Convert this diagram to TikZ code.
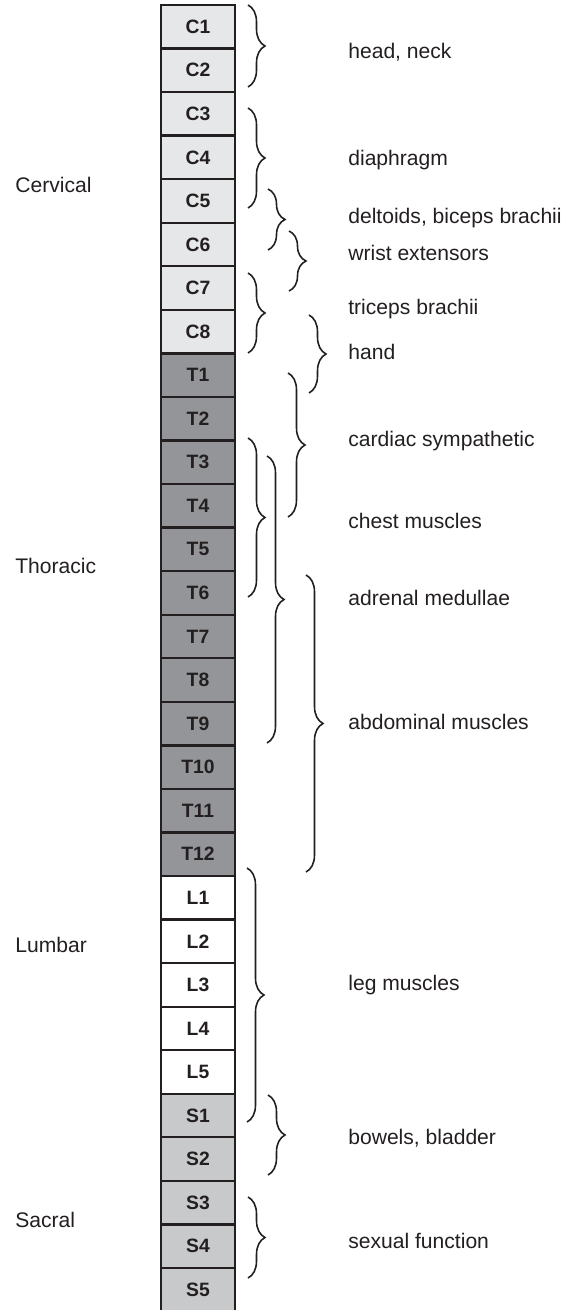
\documentclass[tikz,border=0pt]{standalone}
\usepackage{fontspec}
\setmainfont{Liberation Sans}
\usetikzlibrary{decorations.pathreplacing}

\definecolor{ink}{RGB}{35,31,32}
\definecolor{cervfill}{RGB}{230,231,232}
\definecolor{thorfill}{RGB}{147,149,152}
\definecolor{lumbfill}{RGB}{255,255,255}
\definecolor{sacrfill}{RGB}{200,201,203}

\tikzset{
  seg/.style={draw=ink, line width=1.3pt, rectangle, minimum width=1.48cm,
    minimum height=0.871cm, inner sep=0pt, text=ink,
    font=\bfseries\fontsize{11}{13}\selectfont},
  region/.style={anchor=west, text=ink, inner sep=0pt,
    font=\fontsize{12}{14}\selectfont},
  func/.style={anchor=west, text=ink, inner sep=0pt,
    font=\fontsize{12}{14}\selectfont},
  curly/.style={draw=ink, line width=0.9pt, decorate,
    decoration={brace, amplitude=0.34cm}}
}

\begin{document}
\begin{tikzpicture}[x=0.02cm, y=-0.02cm]
	\useasboundingbox (0,0) rectangle (571,1310);
	
	% spinal segments
	\foreach \lab [count=\i from 0] in {C1,C2,C3,C4,C5,C6,C7,C8}
		\node[seg, fill=cervfill] (\lab) at (198,{26.775+43.55*\i}) {\lab};
	\foreach \lab [count=\i from 8] in {T1,T2,T3,T4,T5,T6,T7,T8,T9,T10,T11,T12}
		\node[seg, fill=thorfill] (\lab) at (198,{26.775+43.55*\i}) {\lab};
	\foreach \lab [count=\i from 20] in {L1,L2,L3,L4,L5}
		\node[seg, fill=lumbfill] (\lab) at (198,{26.775+43.55*\i}) {\lab};
	\foreach \lab [count=\i from 25] in {S1,S2,S3,S4,S5}
		\node[seg, fill=sacrfill] (\lab) at (198,{26.775+43.55*\i}) {\lab};
	
	% regions
	\node[region] (cervical) at (15,185) {Cervical};
	\node[region] (thoracic) at (15,566) {Thoracic};
	\node[region] (lumbar) at (15,945) {Lumbar};
	\node[region] (sacral) at (15,1220) {Sacral};
	
	% braces
	\draw[curly] (248,5) -- (248,87);        % C1-C2
	\draw[curly] (248,108) -- (248,208);     % C3-C5
	\draw[curly] (268,189) -- (268,250);     % C5-C6
	\draw[curly] (289,231) -- (289,291);     % C6-C7
	\draw[curly] (248,273) -- (248,353);     % C7-C8
	\draw[curly] (309,315) -- (309,393);     % C8-T1
	\draw[curly] (288,373) -- (288,517);     % T1-T4
	\draw[curly] (248,438) -- (248,597);     % T3-T6
	\draw[curly] (267,456) -- (267,743);     % T3-T9
	\draw[curly] (306,575) -- (306,872);     % T6-T12
	\draw[curly] (247,868) -- (247,1122);    % L1-S1
	\draw[curly] (268,1095) -- (268,1175);   % S1-S2
	\draw[curly] (248,1197) -- (248,1278);   % S3-S4
	
	% functions
	\node[func] (headneck) at (348,52) {head, neck};
	\node[func] (diaphragm) at (348,160) {diaphragm};
	\node[func] (deltoids) at (348,218) {deltoids, biceps brachii};
	\node[func] (wrist) at (348,253) {wrist extensors};
	\node[func] (triceps) at (348,309) {triceps brachii};
	\node[func] (hand) at (348,352) {hand};
	\node[func] (cardiac) at (348,441) {cardiac sympathetic};
	\node[func] (chest) at (348,521) {chest muscles};
	\node[func] (adrenal) at (348,598) {adrenal medullae};
	\node[func] (abdominal) at (348,722) {abdominal muscles};
	\node[func] (leg) at (348,985) {leg muscles};
	\node[func] (bowels) at (348,1138) {bowels, bladder};
	\node[func] (sexual) at (348,1241) {sexual function};
	
\end{tikzpicture}
\end{document}
